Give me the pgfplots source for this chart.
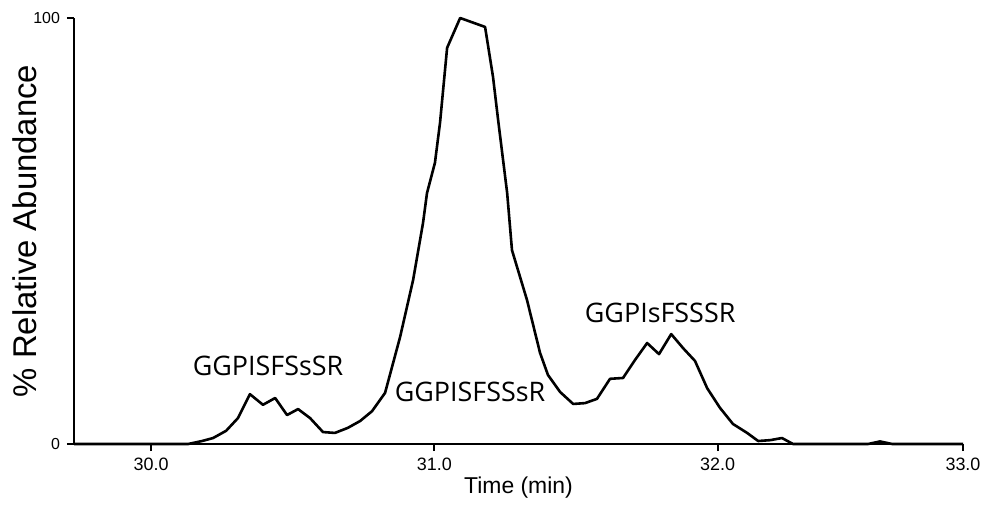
\documentclass[border=0pt]{standalone}
\usepackage{fontspec}
\setmainfont{Liberation Sans}
\newfontfamily\peptfont{Open Sans}
\usepackage{pgfplots}
\pgfplotsset{compat=1.18}

\begin{document}
\begin{tikzpicture}
\begin{axis}[
  at={(0,0)}, anchor=south west,
  scale only axis, width=444.5bp, height=213bp,
  xmin=29.728, xmax=32.866, ymin=0, ymax=100,
  axis x line*=bottom, axis y line*=left,
  axis line style={line width=1.1bp, black},
  xtick={30,31,32,32.866}, xticklabels={30.0,31.0,32.0,33.0},
  ytick={0,100},
  tick align=outside, major tick length=3.5bp,
  tick style={line width=1.1bp, black},
  xticklabel style={font=\fontsize{9}{9}\selectfont},
  yticklabel style={font=\fontsize{8}{8}\selectfont},
  /pgf/number format/assume math mode=true,
  xlabel={Time (min)}, ylabel={\% Relative Abundance},
  xlabel style={font=\fontsize{11.5}{11.5}\selectfont,
    at={(axis description cs:0.5,-0.103)}, anchor=center},
  ylabel style={font=\fontsize{16.5}{16.5}\selectfont,
    at={(axis description cs:-0.055,0.5)}, anchor=center},
  clip=false,
]
\addplot[black, line width=1.3bp, line join=round] coordinates {
  (29.728,0) (30.131,0) (30.180,0.7) (30.219,1.4) (30.265,3.1)
  (30.307,6.1) (30.349,11.7) (30.395,9.2) (30.438,10.8) (30.480,6.8)
  (30.519,8.2) (30.561,6.1) (30.607,2.8) (30.649,2.6) (30.695,3.8)
  (30.738,5.4) (30.780,7.7) (30.826,12.0) (30.879,25.1) (30.925,38.5)
  (30.960,51.9) (30.974,58.9) (31.002,66.0) (31.020,75.4) (31.045,93.0)
  (31.091,100) (31.179,97.9) (31.207,86.2) (31.225,76.1) (31.257,58.9)
  (31.274,45.5) (31.327,33.8) (31.373,21.4) (31.401,16.2) (31.444,12.2)
  (31.490,9.4) (31.532,9.6) (31.574,10.6) (31.620,15.3) (31.666,15.5)
  (31.708,19.7) (31.751,23.7) (31.793,21.1) (31.836,25.8) (31.878,22.5)
  (31.920,19.5) (31.963,13.1) (32.008,8.5) (32.054,4.7) (32.104,2.6)
  (32.143,0.7) (32.185,0.9) (32.227,1.4) (32.266,0) (32.531,0)
  (32.573,0.6) (32.616,0) (32.866,0)
};
\node[font=\peptfont\fontsize{13.5}{13.5}\selectfont] at (axis cs:30.413,18.3) {GGPISFSsSR};
\node[font=\peptfont\fontsize{13.5}{13.5}\selectfont] at (axis cs:31.126,12.2) {GGPISFSSsR};
\node[font=\peptfont\fontsize{13.5}{13.5}\selectfont] at (axis cs:31.797,30.8) {GGPIsFSSSR};
\end{axis}
\pgfresetboundingbox
\path[use as bounding box] (-37bp,-32bp) rectangle (455bp,222bp);
\end{tikzpicture}
\end{document}
